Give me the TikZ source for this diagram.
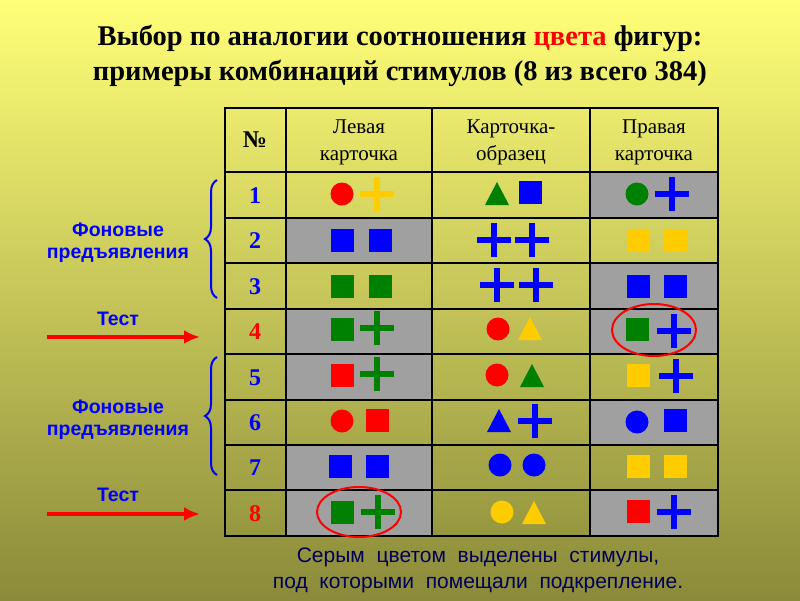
\documentclass[tikz,border=0pt]{standalone}
\usepackage{fontspec}
\setmainfont{Liberation Serif}
\newfontfamily\sansf{Liberation Sans}
\usetikzlibrary{decorations.pathreplacing,arrows.meta}
\definecolor{cr}{RGB}{255,0,0}
\definecolor{cy}{RGB}{255,204,0}
\definecolor{cg}{RGB}{0,128,0}
\definecolor{cb}{RGB}{0,0,255}
\definecolor{gcell}{RGB}{160,160,160}
\definecolor{bgtop}{RGB}{255,255,120}
\definecolor{bgbot}{RGB}{138,138,58}
\newcommand{\fsq}[3]{\fill[#3] (#1-11.5,#2-11.5) rectangle (#1+11.5,#2+11.5);}
\newcommand{\fci}[3]{\fill[#3] (#1,#2) circle (11.5);}
\newcommand{\ftr}[3]{\fill[#3] (#1-12,#2+11) -- (#1+12,#2+11) -- (#1,#2-12) -- cycle;}
\newcommand{\fcr}[3]{\fill[#3] (#1-17,#2-3.3) rectangle (#1+17,#2+3.3); \fill[#3] (#1-3.3,#2-17) rectangle (#1+3.3,#2+17);}
\begin{document}
\begin{tikzpicture}[x=1pt,y=-1pt,
  cellt/.style={font=\fontsize{21}{27}\selectfont, align=center},
  numt/.style={font=\fontsize{24}{26}\selectfont\bfseries, text=cb},
  lab/.style={font=\sansf\fontsize{19.5}{22}\selectfont\bfseries, text=cb, align=center},
  tarrow/.style={draw=cr, line width=4pt, -{Latex[length=16pt,width=14pt]}},
  brc/.style={draw=cb, line width=2pt, decorate, decoration={brace, amplitude=12pt}},
  tline/.style={line width=2.5pt, black}]
\useasboundingbox (0,0) rectangle (800,600);
\shade[top color=bgtop, bottom color=bgbot] (0,0) rectangle (800,600);
% title
\node (t1) at (400,38) {\fontsize{28.5}{32}\selectfont\bfseries Выбор по аналогии соотношения \textcolor{cr}{цвета} фигур:};
\node (t2) at (400,73) {\fontsize{28.5}{32}\selectfont\bfseries примеры комбинаций стимулов (8 из всего 384)};
% gray cells
\foreach \xa/\xb/\ya/\yb in {590/718/172/218, 286/432/218/263, 590/718/263/309, 286/432/309/354, 590/718/309/354, 286/432/354/400, 590/718/400/445, 286/432/445/490, 286/432/490/536, 590/718/490/536}
  \fill[gcell] (\xa,\ya) rectangle (\xb,\yb);
% grid
\draw[tline] (225,108) rectangle (718,536);
\foreach \x in {286,432,590} \draw[tline] (\x,108) -- (\x,536);
\foreach \y in {172,218,263,309,354,400,445,490} \draw[tline] (225,\y) -- (718,\y);
% header
\node[cellt] (h0) at (255,140) {\fontsize{24}{26}\selectfont\bfseries №};
\node[cellt] (h1) at (359,142) {Левая\\карточка};
\node[cellt] (h2) at (511,142) {Карточка-\\образец};
\node[cellt] (h3) at (654,142) {Правая\\карточка};
% numbers
\node[numt] (n1) at (255,196) {1};
\node[numt] (n2) at (255,241) {2};
\node[numt] (n3) at (255,287) {3};
\node[numt, text=cr] (n4) at (255,332) {4};
\node[numt] (n5) at (255,378) {5};
\node[numt] (n6) at (255,423) {6};
\node[numt] (n7) at (255,468) {7};
\node[numt, text=cr] (n8) at (255,514) {8};
% row 1
\fci{342}{194}{cr}\fcr{377}{194}{cy}\ftr{497}{194}{cg}\fsq{530}{192}{cb}\fci{637}{194}{cg}\fcr{672}{194}{cb}
% row 2
\fsq{342}{240}{cb}\fsq{380}{240}{cb}\fcr{494}{240}{cb}\fcr{532}{240}{cb}\fsq{638}{240}{cy}\fsq{675}{240}{cy}
% row 3
\fsq{342}{286}{cg}\fsq{380}{286}{cg}\fcr{497}{285}{cb}\fcr{536}{285}{cb}\fsq{638}{286}{cb}\fsq{675}{286}{cb}
% row 4
\fsq{342}{329}{cg}\fcr{377}{328}{cg}\fci{498}{329}{cr}\ftr{530}{329}{cy}\fsq{637}{329}{cg}\fcr{674}{331}{cb}
% row 5
\fsq{342}{375}{cr}\fcr{377}{374}{cg}\fci{497}{375}{cr}\ftr{532}{376}{cg}\fsq{638}{375}{cy}\fcr{676}{376}{cb}
% row 6
\fci{342}{421}{cr}\fsq{377}{420}{cr}\ftr{499}{421}{cb}\fcr{535}{421}{cb}\fci{637}{422}{cb}\fsq{675}{420}{cb}
% row 7
\fsq{340}{466}{cb}\fsq{377}{466}{cb}\fci{500}{465}{cb}\fci{534}{465}{cb}\fsq{638}{466}{cy}\fsq{675}{466}{cy}
% row 8
\fsq{342}{512}{cg}\fcr{378}{512}{cg}\fci{502}{512}{cy}\ftr{534}{513}{cy}\fsq{638}{511}{cr}\fcr{674}{512}{cb}
% ellipses
\draw[cr, line width=2pt] (654,330) ellipse (42 and 26);
\draw[cr, line width=2pt] (359,512) ellipse (42 and 25);
% braces and labels
\draw[brc] (217,298) -- (217,180);
\draw[brc] (217,475) -- (217,357);
\node[lab] (f1) at (118,243) {Фоновые\\предъявления};
\node[lab] (f2) at (118,420) {Фоновые\\предъявления};
\node[lab, text=cb] (te1) at (118,319) {Тест};
\node[lab, text=cb] (te2) at (118,495) {Тест};
\coordinate (a1s) at (47,337); \coordinate (a1e) at (200,337);
\coordinate (a2s) at (47,514); \coordinate (a2e) at (200,514);
\draw[tarrow] (a1s) -- (a1e);
\draw[tarrow] (a2s) -- (a2e);
% bottom note
\node[font=\sansf\fontsize{21}{26}\selectfont, align=center, text=cb!35!black] (note) at (478,570) {Серым \ цветом \ выделены \ стимулы,\\под \ которыми \ помещали \ подкрепление.};
\end{tikzpicture}
\end{document}
